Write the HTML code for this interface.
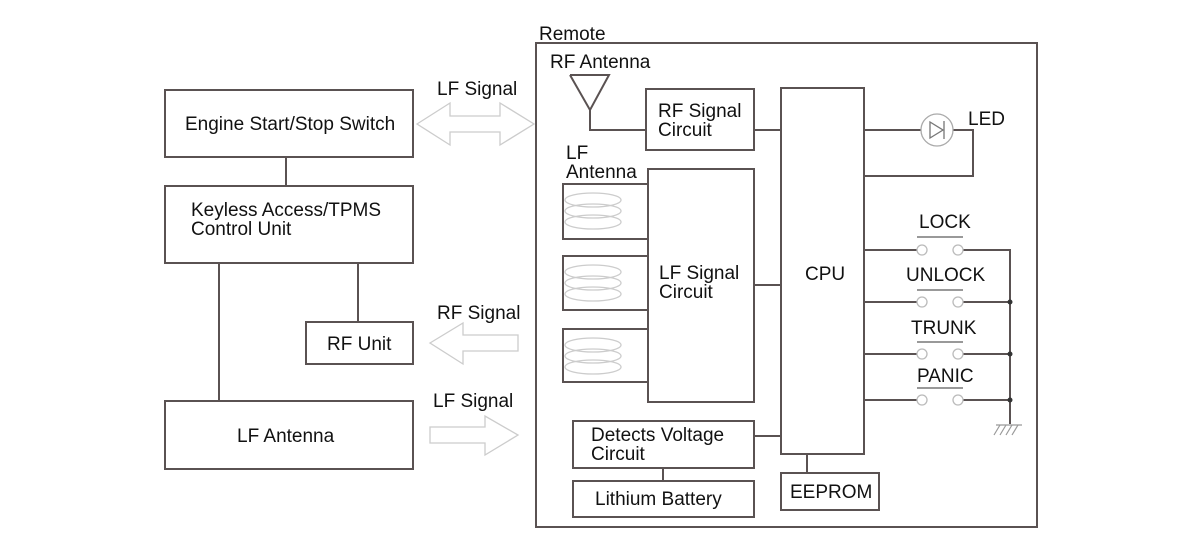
<!DOCTYPE html>
<html><head><style>
body{margin:0;background:#fff}
svg text{font-family:"Liberation Sans",Arial,sans-serif;font-size:19px;fill:#111}
</style></head><body>
<svg width="1200" height="552" viewBox="0 0 1200 552">
<g fill="none" stroke="#5a5252" stroke-width="2">
<rect x="165" y="90" width="248" height="67"/>
<rect x="165" y="186" width="248" height="77"/>
<rect x="306" y="322" width="107" height="42"/>
<rect x="165" y="401" width="248" height="68"/>
<line x1="286" y1="157" x2="286" y2="186"/>
<line x1="219" y1="263" x2="219" y2="401"/>
<line x1="358" y1="263" x2="358" y2="322"/>
<rect x="536" y="43" width="501" height="484"/>
<rect x="646" y="89" width="108" height="61"/>
<rect x="648" y="169" width="106" height="233"/>
<rect x="781" y="88" width="83" height="366"/>
<rect x="573" y="421" width="181" height="47"/>
<rect x="573" y="481" width="181" height="36"/>
<rect x="781" y="473" width="98" height="37"/>
<line x1="663" y1="468" x2="663" y2="481"/>
<line x1="807" y1="454" x2="807" y2="473"/>
<line x1="754" y1="436" x2="781" y2="436"/>
<line x1="754" y1="285" x2="781" y2="285"/>
<line x1="754" y1="130" x2="781" y2="130"/>
<polyline points="570,75 609,75 590,110 570,75"/>
<polyline points="590,110 590,130 646,130"/>
<polyline points="648,184 563,184 563,239 648,239"/>
<polyline points="648,256 563,256 563,310 648,310"/>
<polyline points="648,329 563,329 563,382 648,382"/>
<polyline points="864,130 973,130 973,176 864,176"/>
<line x1="864" y1="250" x2="917" y2="250"/>
<line x1="864" y1="302" x2="917" y2="302"/>
<line x1="864" y1="354" x2="917" y2="354"/>
<line x1="864" y1="400" x2="917" y2="400"/>
<polyline points="963,250 1010,250 1010,424"/>
<line x1="963" y1="302" x2="1010" y2="302"/>
<line x1="963" y1="354" x2="1010" y2="354"/>
<line x1="963" y1="400" x2="1010" y2="400"/>
</g>
<g fill="#333"><circle cx="1010" cy="302" r="2.5"/><circle cx="1010" cy="354" r="2.5"/><circle cx="1010" cy="400" r="2.5"/></g>
<g stroke="#999" stroke-width="1.2" fill="none">
<line x1="996" y1="425" x2="1022" y2="425"/>
<line x1="1000" y1="425" x2="994" y2="435"/><line x1="1006" y1="425" x2="1000" y2="435"/><line x1="1012" y1="425" x2="1006" y2="435"/><line x1="1018" y1="425" x2="1012" y2="435"/>
</g>
<g fill="#fff" stroke="#aaa" stroke-width="1.3">
<circle cx="937" cy="130" r="16"/>
</g>
<g stroke="#777" stroke-width="1.3" fill="none"><polygon points="930,122 930,138 943,130"/><line x1="944" y1="121" x2="944" y2="139"/></g>
<g fill="#fff" stroke="#bbb" stroke-width="1.3">
<circle cx="922" cy="250" r="5"/><circle cx="958" cy="250" r="5"/>
<circle cx="922" cy="302" r="5"/><circle cx="958" cy="302" r="5"/>
<circle cx="922" cy="354" r="5"/><circle cx="958" cy="354" r="5"/>
<circle cx="922" cy="400" r="5"/><circle cx="958" cy="400" r="5"/>
</g>
<g stroke="#999" stroke-width="2"><line x1="917" y1="237" x2="963" y2="237"/><line x1="917" y1="290" x2="963" y2="290"/><line x1="917" y1="342" x2="963" y2="342"/><line x1="917" y1="388" x2="963" y2="388"/></g>
<g fill="none" stroke="#ccc" stroke-width="1.3">
<ellipse cx="593" cy="200" rx="28" ry="7"/><ellipse cx="593" cy="211" rx="28" ry="7"/><ellipse cx="593" cy="222" rx="28" ry="7"/>
<ellipse cx="593" cy="272" rx="28" ry="7"/><ellipse cx="593" cy="283" rx="28" ry="7"/><ellipse cx="593" cy="294" rx="28" ry="7"/>
<ellipse cx="593" cy="345" rx="28" ry="7"/><ellipse cx="593" cy="356" rx="28" ry="7"/><ellipse cx="593" cy="367" rx="28" ry="7"/>
<polygon points="417,124 450,103 450,116 500,116 500,103 534,124 500,145 500,132 450,132 450,145"/>
<polygon points="430,343 463,323 463,335 518,335 518,351 463,351 463,364"/>
<polygon points="430,427 485,427 485,416 518,435 485,455 485,443 430,443"/>
</g>
<text x="185" y="130">Engine Start/Stop Switch</text>
<text x="191" y="216">Keyless Access/TPMS</text>
<text x="191" y="235">Control Unit</text>
<text x="327" y="350">RF Unit</text>
<text x="237" y="442">LF Antenna</text>
<text x="437" y="95">LF Signal</text>
<text x="437" y="319">RF Signal</text>
<text x="433" y="407">LF Signal</text>
<text x="539" y="40">Remote</text>
<text x="550" y="68">RF Antenna</text>
<text x="658" y="117">RF Signal</text>
<text x="658" y="136">Circuit</text>
<text x="566" y="159">LF</text>
<text x="566" y="178">Antenna</text>
<text x="659" y="279">LF Signal</text>
<text x="659" y="298">Circuit</text>
<text x="805" y="280">CPU</text>
<text x="591" y="441">Detects Voltage</text>
<text x="591" y="460">Circuit</text>
<text x="595" y="505">Lithium Battery</text>
<text x="790" y="498">EEPROM</text>
<text x="968" y="125">LED</text>
<text x="919" y="228">LOCK</text>
<text x="906" y="281">UNLOCK</text>
<text x="911" y="334">TRUNK</text>
<text x="917" y="382">PANIC</text>
</svg>
</body></html>
